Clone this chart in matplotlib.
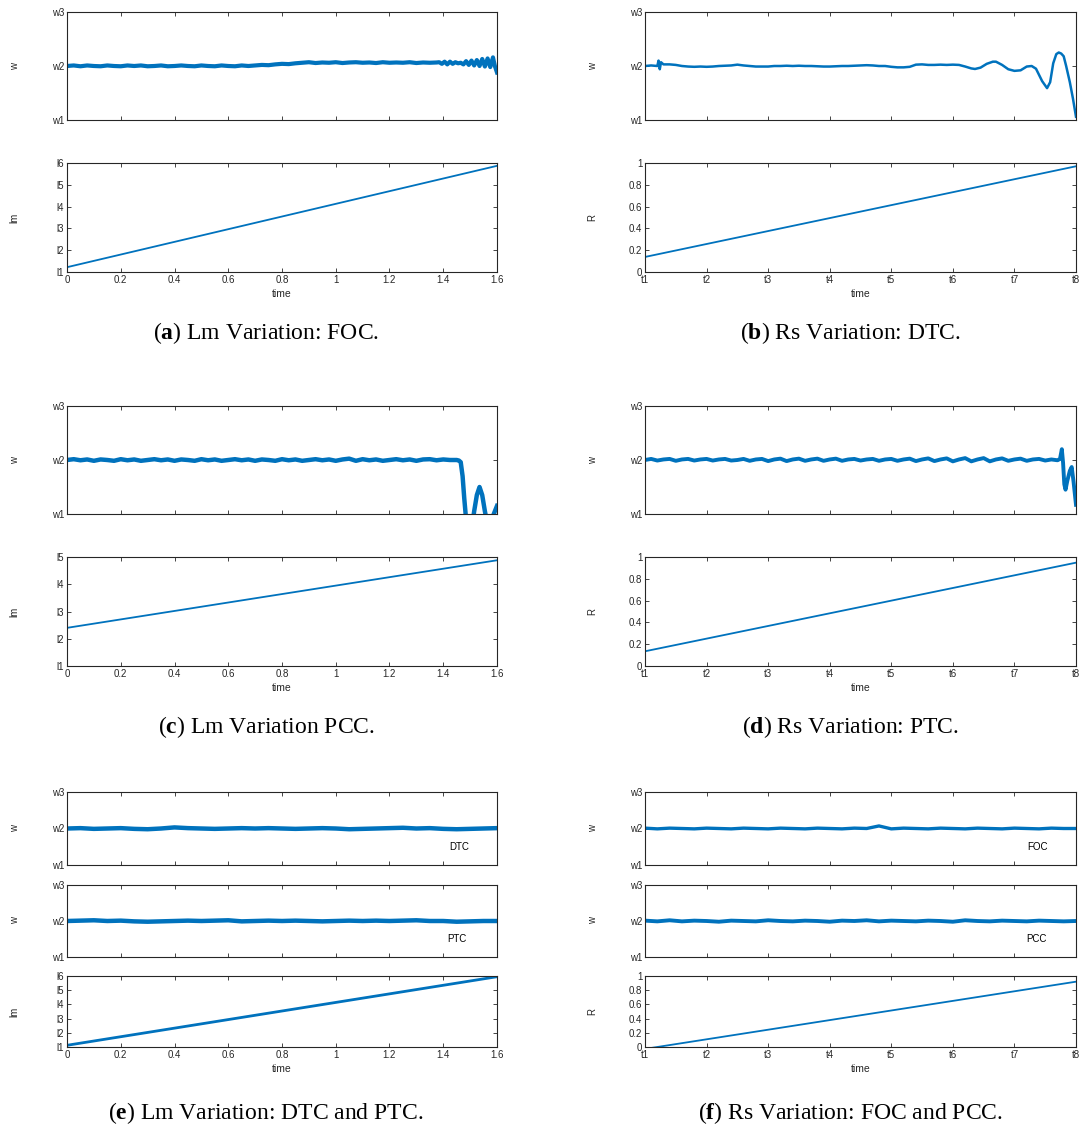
import numpy as np
import matplotlib.pyplot as plt

plt.rcParams['font.family'] = ['Liberation Sans', 'DejaVu Sans']
plt.rcParams['mathtext.fontset'] = 'custom'
plt.rcParams['mathtext.rm'] = 'Liberation Serif'
plt.rcParams['mathtext.bf'] = 'Liberation Serif:bold'

BLUE = '#0072BD'
GREY = '#262626'

# =========================
# data
# =========================
# left column: time axis 0..1.6, right column: t1..t8 mapped to 1..8
time_ticks = [0, 0.2, 0.4, 0.6, 0.8, 1.0, 1.2, 1.4, 1.6]
time_labels = ['0', '0.2', '0.4', '0.6', '0.8', '1', '1.2', '1.4', '1.6']
t_ticks = [1, 2, 3, 4, 5, 6, 7, 8]
t_labels = ['t1', 't2', 't3', 't4', 't5', 't6', 't7', 't8']
w_ticks = [1, 2, 3]
w_labels = ['w1', 'w2', 'w3']
lm_labels6 = ['l1', 'l2', 'l3', 'l4', 'l5', 'l6']
lm_labels5 = ['l1', 'l2', 'l3', 'l4', 'l5']
r_ticks = [0, 0.2, 0.4, 0.6, 0.8, 1.0]
r_labels = ['0', '0.2', '0.4', '0.6', '0.8', '1']

# (a) Lm variation, FOC  (speed sampled every 0.025 up to 1.375, then tail)
a_w_body = [2.00, 2.01, 1.995, 2.01, 2.00, 1.995, 2.01, 2.00, 1.995, 2.01,
            2.00, 2.01, 1.995, 2.00, 2.01, 1.995, 2.00, 2.01, 2.00, 1.995,
            2.01, 2.00, 1.995, 2.01, 2.00, 1.995, 2.01, 2.00, 2.01,
            2.02, 2.015, 2.03, 2.04, 2.035, 2.05,
            2.06, 2.07, 2.055, 2.065, 2.06, 2.07, 2.055, 2.065, 2.07, 2.06,
            2.065, 2.055, 2.07, 2.06, 2.065, 2.06, 2.07, 2.055, 2.065, 2.06, 2.065]
a_t_tail = [1.385, 1.395, 1.405, 1.415, 1.425, 1.435, 1.445, 1.455, 1.465, 1.475,
            1.485, 1.495, 1.505, 1.515, 1.525, 1.535, 1.545, 1.555, 1.565, 1.575,
            1.585, 1.592, 1.600]
a_w_tail = [2.07, 2.04, 2.08, 2.03, 2.08, 2.04, 2.07, 2.05, 2.06, 2.03,
            2.09, 2.02, 2.10, 2.01, 2.11, 2.00, 2.13, 1.99, 2.14, 1.98,
            2.16, 2.00, 1.88]
a_lm_t = [0, 1.6]
a_lm = [1.22, 5.87]

# (b) Rs variation, DTC
b_t = [1.0, 1.1, 1.2, 1.22, 1.24, 1.26, 1.3, 1.4, 1.5, 1.6, 1.7, 1.8, 1.9,
       2.0, 2.1, 2.2, 2.3, 2.4, 2.5, 2.6, 2.7, 2.8, 2.9,
       3.0, 3.1, 3.2, 3.3, 3.4, 3.5, 3.6, 3.7, 3.8, 3.9,
       4.0, 4.1, 4.2, 4.3, 4.4, 4.5, 4.6, 4.7, 4.8, 4.9,
       5.0, 5.1, 5.2, 5.3, 5.4, 5.5, 5.6, 5.7, 5.8, 5.9,
       6.0, 6.1, 6.2, 6.3, 6.36, 6.45, 6.55, 6.65, 6.7, 6.8, 6.9,
       7.0, 7.1, 7.2, 7.28, 7.35, 7.45, 7.53, 7.58, 7.63, 7.68, 7.72,
       7.76, 7.8, 7.84, 7.9, 7.95, 8.0]
b_w = [2.00, 2.01, 2.00, 2.10, 1.94, 2.07, 2.03, 2.03, 2.02, 2.00, 1.99, 1.985, 1.99,
       1.985, 1.99, 2.00, 2.005, 2.01, 2.025, 2.01, 2.00, 1.99, 1.99,
       1.99, 2.00, 2.00, 2.005, 2.00, 2.005, 2.00, 2.00, 1.995, 1.99,
       1.99, 1.995, 2.00, 2.00, 2.005, 2.01, 2.015, 2.01, 2.00, 2.00,
       1.985, 1.975, 1.975, 1.985, 2.025, 2.03, 2.02, 2.02, 2.025, 2.02,
       2.025, 2.02, 1.99, 1.955, 1.945, 1.97, 2.04, 2.08, 2.08, 2.02, 1.94,
       1.91, 1.92, 1.99, 2.00, 1.95, 1.72, 1.59, 1.70, 2.05, 2.22, 2.25,
       2.23, 2.18, 2.00, 1.70, 1.40, 1.06]
b_r_t = [1, 8]
b_r = [0.138, 0.97]

# (c) Lm variation, PCC  (every 0.025 up to 1.45, then tail)
c_w_body = [2.00, 2.015, 1.995, 2.01, 1.985, 2.01, 2.00, 1.985, 2.015, 1.995,
            2.01, 1.985, 2.00, 2.015, 1.995, 2.01, 1.985, 2.01, 2.00, 1.985,
            2.015, 1.995, 2.01, 1.985, 2.00, 2.015, 1.995, 2.01, 1.985, 2.01,
            2.00, 1.985, 2.015, 1.995, 2.01, 1.985, 2.00, 2.015, 1.995, 2.01,
            1.985, 2.01, 2.025, 1.985, 2.015, 1.995, 2.01, 1.985, 2.00, 2.015,
            1.995, 2.01, 1.985, 2.01, 2.015, 1.995, 2.01, 2.00, 2.00]
c_t_tail = [1.458, 1.465, 1.472, 1.478, 1.485, 1.495, 1.505, 1.515,
            1.525, 1.535, 1.545, 1.555, 1.565, 1.578, 1.588, 1.600]
c_w_tail = [1.99, 1.96, 1.70, 1.30, 0.90, 0.60, 0.70, 1.05,
            1.35, 1.50, 1.35, 1.05, 0.80, 0.85, 1.00, 1.15]
c_lm_t = [0, 1.6]
c_lm = [2.40, 4.88]

# (d) Rs variation, PTC  (every 0.1 from t1 to 7.7, then tail)
d_w_body = [2.00, 2.02, 1.99, 2.01, 2.02, 1.985, 2.01, 2.02, 1.99, 2.01,
            2.02, 1.99, 2.01, 2.02, 1.99, 2.00, 2.02, 1.985, 2.01, 2.02,
            1.98, 2.01, 2.025, 1.98, 2.01, 2.025, 1.985, 2.01, 2.025, 1.985,
            2.01, 2.025, 1.985, 2.01, 2.02, 1.99, 2.01, 2.02, 1.985, 2.01,
            2.02, 1.985, 2.01, 2.025, 1.98, 2.01, 2.03, 1.98, 2.01, 2.03,
            1.975, 2.01, 2.035, 1.975, 2.01, 2.035, 1.975, 2.01, 2.03, 1.985,
            2.01, 2.025, 1.985, 2.01, 2.02, 1.99, 2.01, 1.995]
d_t_tail = [7.74, 7.77, 7.79, 7.81, 7.83, 7.86, 7.9, 7.93, 7.96, 8.0]
d_w_tail = [2.02, 2.20, 1.95, 1.55, 1.45, 1.62, 1.80, 1.87, 1.60, 1.17]
d_r_t = [1, 8]
d_r = [0.135, 0.948]

# (e) Lm variation, DTC and PTC (every 0.05)
e_w_dtc = [2.00, 2.01, 1.99, 2.00, 2.01, 1.99, 1.98, 2.00, 2.03, 2.01,
           2.00, 1.99, 2.00, 2.01, 2.00, 2.01, 2.00, 1.99, 2.00, 2.01,
           2.00, 1.98, 1.99, 2.00, 2.01, 2.02, 2.00, 2.01, 1.99, 1.98,
           1.99, 2.00, 2.01]
e_w_ptc = [2.00, 2.01, 2.02, 2.00, 2.01, 1.99, 1.98, 1.99, 2.00, 2.01,
           2.00, 2.01, 2.02, 1.99, 2.00, 2.01, 2.00, 2.01, 2.00, 1.99,
           2.00, 2.01, 2.00, 2.01, 2.00, 2.01, 2.02, 2.00, 2.00, 1.98,
           1.99, 2.00, 2.00]
e_lm_t = [0, 1.6]
e_lm = [1.12, 5.95]

# (f) Rs variation, FOC and PCC (every 0.2)
f_w_foc = [2.01, 1.99, 2.01, 2.00, 1.99, 2.01, 2.00, 1.99, 2.01, 2.00,
           1.99, 2.01, 2.00, 1.99, 2.01, 2.00, 1.99, 2.01, 2.00, 2.07,
           1.99, 2.01, 2.00, 1.99, 2.01, 2.00, 1.99, 2.01, 2.00, 1.99,
           2.01, 2.00, 1.99, 2.01, 2.00, 2.00]
f_w_pcc = [2.01, 1.99, 2.02, 1.99, 2.01, 2.00, 1.98, 2.01, 2.00, 1.99,
           2.02, 2.00, 1.99, 2.01, 2.00, 1.98, 2.01, 2.00, 2.02, 1.99,
           2.01, 2.00, 1.99, 2.01, 2.00, 1.98, 2.02, 2.00, 1.99, 2.01,
           2.00, 1.99, 2.01, 2.00, 1.99, 2.00]
f_r_t = [1, 8]
f_r = [-0.027, 0.92]

captions = [r'($\mathbf{a}$) Lm Variation: FOC.', r'($\mathbf{b}$) Rs Variation: DTC.',
            r'($\mathbf{c}$) Lm Variation PCC.', r'($\mathbf{d}$) Rs Variation: PTC.',
            r'($\mathbf{e}$) Lm Variation: DTC and PTC.', r'($\mathbf{f}$) Rs Variation: FOC and PCC.']

# sample grids
grid_a = np.arange(len(a_w_body)) * 0.025
grid_c = np.arange(len(c_w_body)) * 0.025
grid_d = 1 + np.arange(len(d_w_body)) * 0.1
grid_e = np.arange(len(e_w_dtc)) * 0.05
grid_f = 1 + np.arange(len(f_w_foc)) * 0.2

# =========================
# layout (pixels -> figure fraction)
# =========================
W, H = 1079, 1136
fig = plt.figure(figsize=(W / 100, H / 100), dpi=100)


def add_ax(x0, x1, y0, y1):
    return fig.add_axes([x0 / W, 1 - y1 / H, (x1 - x0) / W, (y1 - y0) / H])


def style(ax, xlim, xticks, xlabels, yticks, ylabels, ylim, ylab, show_x=False):
    ax.set_xlim(xlim)
    ax.set_ylim(ylim)
    ax.set_xticks(xticks)
    ax.set_yticks(yticks)
    ax.set_yticklabels(ylabels)
    if show_x:
        ax.set_xticklabels(xlabels)
        ax.set_xlabel('time', fontsize=7.5, color=GREY, labelpad=3)
    else:
        ax.set_xticklabels([])
    ax.tick_params(direction='in', top=True, right=True, length=3, width=0.6,
                   labelsize=7, colors=GREY, pad=2)
    for s in ax.spines.values():
        s.set_linewidth(0.8)
        s.set_color(GREY)
    ax.set_ylabel(ylab, fontsize=7, color=GREY)
    ax.yaxis.set_label_coords(-0.11, 0.5)


LX = (67, 497)
RX = (645, 1076)
lt = (time_ticks[0], time_ticks[-1])
rt = (1, 8)

# ---- (a)
ax = add_ax(*LX, 12, 120)
ax.plot(np.concatenate([grid_a, a_t_tail]), a_w_body + a_w_tail, color=BLUE, lw=3.0)
style(ax, lt, time_ticks, time_labels, w_ticks, w_labels, (1, 3), 'w')
ax = add_ax(*LX, 163, 272)
ax.plot(a_lm_t, a_lm, color=BLUE, lw=1.3)
style(ax, lt, time_ticks, time_labels, [1, 2, 3, 4, 5, 6], lm_labels6, (1, 6), 'lm', True)

# ---- (b)
ax = add_ax(*RX, 12, 120)
ax.plot(b_t, b_w, color=BLUE, lw=1.8)
style(ax, rt, t_ticks, t_labels, w_ticks, w_labels, (1, 3), 'w')
ax = add_ax(*RX, 163, 272)
ax.plot(b_r_t, b_r, color=BLUE, lw=1.3)
style(ax, rt, t_ticks, t_labels, r_ticks, r_labels, (0, 1), 'R', True)

# ---- (c)
ax = add_ax(*LX, 406, 514)
ax.plot(np.concatenate([grid_c, c_t_tail]), c_w_body + c_w_tail, color=BLUE, lw=3.2)
style(ax, lt, time_ticks, time_labels, w_ticks, w_labels, (1, 3), 'w')
ax = add_ax(*LX, 557, 666)
ax.plot(c_lm_t, c_lm, color=BLUE, lw=1.3)
style(ax, lt, time_ticks, time_labels, [1, 2, 3, 4, 5], lm_labels5, (1, 5), 'lm', True)

# ---- (d)
ax = add_ax(*RX, 406, 514)
ax.plot(np.concatenate([grid_d, d_t_tail]), d_w_body + d_w_tail, color=BLUE, lw=2.8)
style(ax, rt, t_ticks, t_labels, w_ticks, w_labels, (1, 3), 'w')
ax = add_ax(*RX, 557, 666)
ax.plot(d_r_t, d_r, color=BLUE, lw=1.3)
style(ax, rt, t_ticks, t_labels, r_ticks, r_labels, (0, 1), 'R', True)

# ---- (e)
ax = add_ax(*LX, 792, 865)
ax.plot(grid_e, e_w_dtc, color=BLUE, lw=3.2)
ax.text(1.46, 1.5, 'DTC', fontsize=7, ha='center', va='center', color='k')
style(ax, lt, time_ticks, time_labels, w_ticks, w_labels, (1, 3), 'w')
ax = add_ax(*LX, 885, 957)
ax.plot(grid_e, e_w_ptc, color=BLUE, lw=3.2)
ax.text(1.45, 1.5, 'PTC', fontsize=7, ha='center', va='center', color='k')
style(ax, lt, time_ticks, time_labels, w_ticks, w_labels, (1, 3), 'w')
ax = add_ax(*LX, 976, 1047)
ax.plot(e_lm_t, e_lm, color=BLUE, lw=2.0)
style(ax, lt, time_ticks, time_labels, [1, 2, 3, 4, 5, 6], lm_labels6, (1, 6), 'lm', True)

# ---- (f)
ax = add_ax(*RX, 792, 865)
ax.plot(grid_f, f_w_foc, color=BLUE, lw=2.4)
ax.text(7.38, 1.5, 'FOC', fontsize=7, ha='center', va='center', color='k')
style(ax, rt, t_ticks, t_labels, w_ticks, w_labels, (1, 3), 'w')
ax = add_ax(*RX, 885, 957)
ax.plot(grid_f, f_w_pcc, color=BLUE, lw=2.8)
ax.text(7.36, 1.5, 'PCC', fontsize=7, ha='center', va='center', color='k')
style(ax, rt, t_ticks, t_labels, w_ticks, w_labels, (1, 3), 'w')
ax = add_ax(*RX, 976, 1047)
ax.plot(f_r_t, f_r, color=BLUE, lw=1.3)
style(ax, rt, t_ticks, t_labels, r_ticks, r_labels, (0, 1), 'R', True)

# ---- captions
cap_x = [266, 850]
cap_y = [333, 727, 1113]
for i, cap in enumerate(captions):
    fig.text(cap_x[i % 2] / W, 1 - cap_y[i // 2] / H, cap, fontsize=17,
             family='Liberation Serif', ha='center', va='center', color='k')

fig.savefig('out.png', dpi=100)
